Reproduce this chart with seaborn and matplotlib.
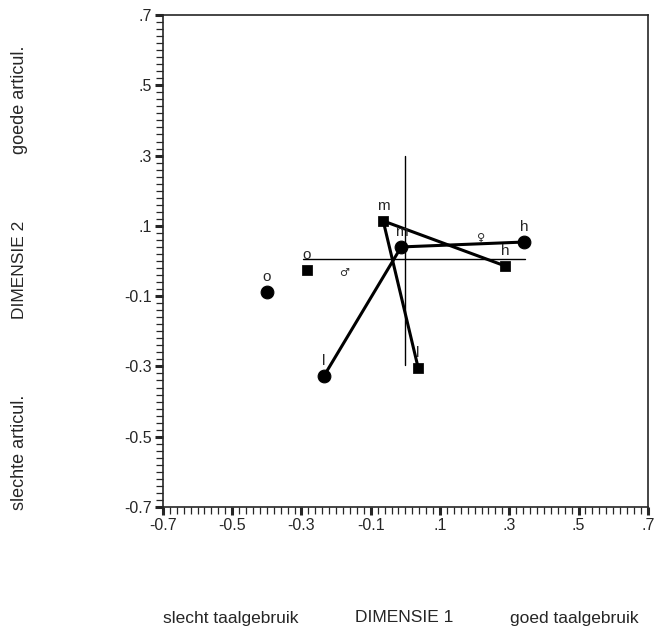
import numpy as np
import pandas as pd
import seaborn as sns
import matplotlib.pyplot as plt
from matplotlib.ticker import MultipleLocator

# points per group: o, l, m, h
labels = ['o', 'l', 'm', 'h']
circle_x = [-0.40, -0.235, -0.012, 0.343]
circle_y = [-0.088, -0.327, 0.040, 0.054]
square_x = [-0.284, 0.037, -0.064, 0.288]
square_y = [-0.025, -0.304, 0.114, -0.014]

# thin reference cross
cross_h_x = [-0.295, 0.345]
cross_h_y = [0.006, 0.006]
cross_v_x = [0.0, 0.0]
cross_v_y = [0.30, -0.296]

# gender symbols
sym_text = ['\u2642', '\u2640']
sym_x = [-0.177, 0.219]
sym_y = [-0.034, 0.066]

tick_vals = [-0.7, -0.5, -0.3, -0.1, 0.1, 0.3, 0.5, 0.7]
tick_labels = ['-0.7', '-0.5', '-0.3', '-0.1', '.1', '.3', '.5', '.7']

sns.set_style("ticks")
plt.rcParams['font.family'] = ['Liberation Sans', 'DejaVu Sans']

circles = pd.DataFrame({'x': circle_x, 'y': circle_y, 'label': labels})
squares = pd.DataFrame({'x': square_x, 'y': square_y, 'label': labels})

fig = plt.figure(figsize=(6.57, 6.38), dpi=100)
ax = fig.add_axes([0.248, 0.2053, 0.738, 0.7712])

# thin cross
sns.lineplot(x=cross_h_x, y=cross_h_y, sort=False, estimator=None, color='black', linewidth=1.0, ax=ax)
sns.lineplot(x=cross_v_x, y=cross_v_y, sort=False, estimator=None, color='black', linewidth=1.0, ax=ax)

# connected l - m - h
sns.lineplot(data=circles.iloc[1:], x='x', y='y', sort=False, estimator=None, color='black', linewidth=2.2, ax=ax)
sns.lineplot(data=squares.iloc[1:], x='x', y='y', sort=False, estimator=None, color='black', linewidth=2.2, ax=ax)

sns.scatterplot(data=circles, x='x', y='y', marker='o', s=85, color='black', edgecolor='black', ax=ax, zorder=5)
sns.scatterplot(data=squares, x='x', y='y', marker='s', s=45, color='black', edgecolor='black', ax=ax, zorder=5)

for df in (circles, squares):
    for _, r in df.iterrows():
        ax.text(r['x'], r['y'] + 0.022, r['label'], ha='center', va='bottom', fontsize=11, zorder=6)

for t, x, y in zip(sym_text, sym_x, sym_y):
    ax.text(x, y, t, ha='center', va='center', fontsize=8, family=['DejaVu Sans'])

ax.set_xlim(-0.7, 0.7)
ax.set_ylim(-0.7, 0.7)
ax.set_xticks(tick_vals)
ax.set_xticklabels(tick_labels)
ax.set_yticks(tick_vals)
ax.set_yticklabels(tick_labels)
ax.xaxis.set_minor_locator(MultipleLocator(0.02))
ax.yaxis.set_minor_locator(MultipleLocator(0.02))
ax.tick_params(which='major', length=6, width=2.2, direction='out', labelsize=11.5, pad=2)
ax.tick_params(which='minor', length=5, width=0.9, direction='out')
for sp in ax.spines.values():
    sp.set_linewidth(1.2)
    sp.set_visible(True)
ax.set_xlabel('')
ax.set_ylabel('')

# outer axis captions
fig.text(20 / 657, 1 - 100 / 638, 'goede articul.', rotation=90, ha='center', va='center', fontsize=13)
fig.text(20 / 657, 1 - 270 / 638, 'DIMENSIE 2', rotation=90, ha='center', va='center', fontsize=12.5)
fig.text(20 / 657, 1 - 452 / 638, 'slechte articul.', rotation=90, ha='center', va='center', fontsize=13)
fig.text(231 / 657, 1 - 618 / 638, 'slecht taalgebruik', ha='center', va='center', fontsize=12.5)
fig.text(404 / 657, 1 - 618 / 638, 'DIMENSIE 1', ha='center', va='center', fontsize=12.5)
fig.text(574 / 657, 1 - 618 / 638, 'goed taalgebruik', ha='center', va='center', fontsize=12.5)

fig.savefig('out.png', dpi=100)
